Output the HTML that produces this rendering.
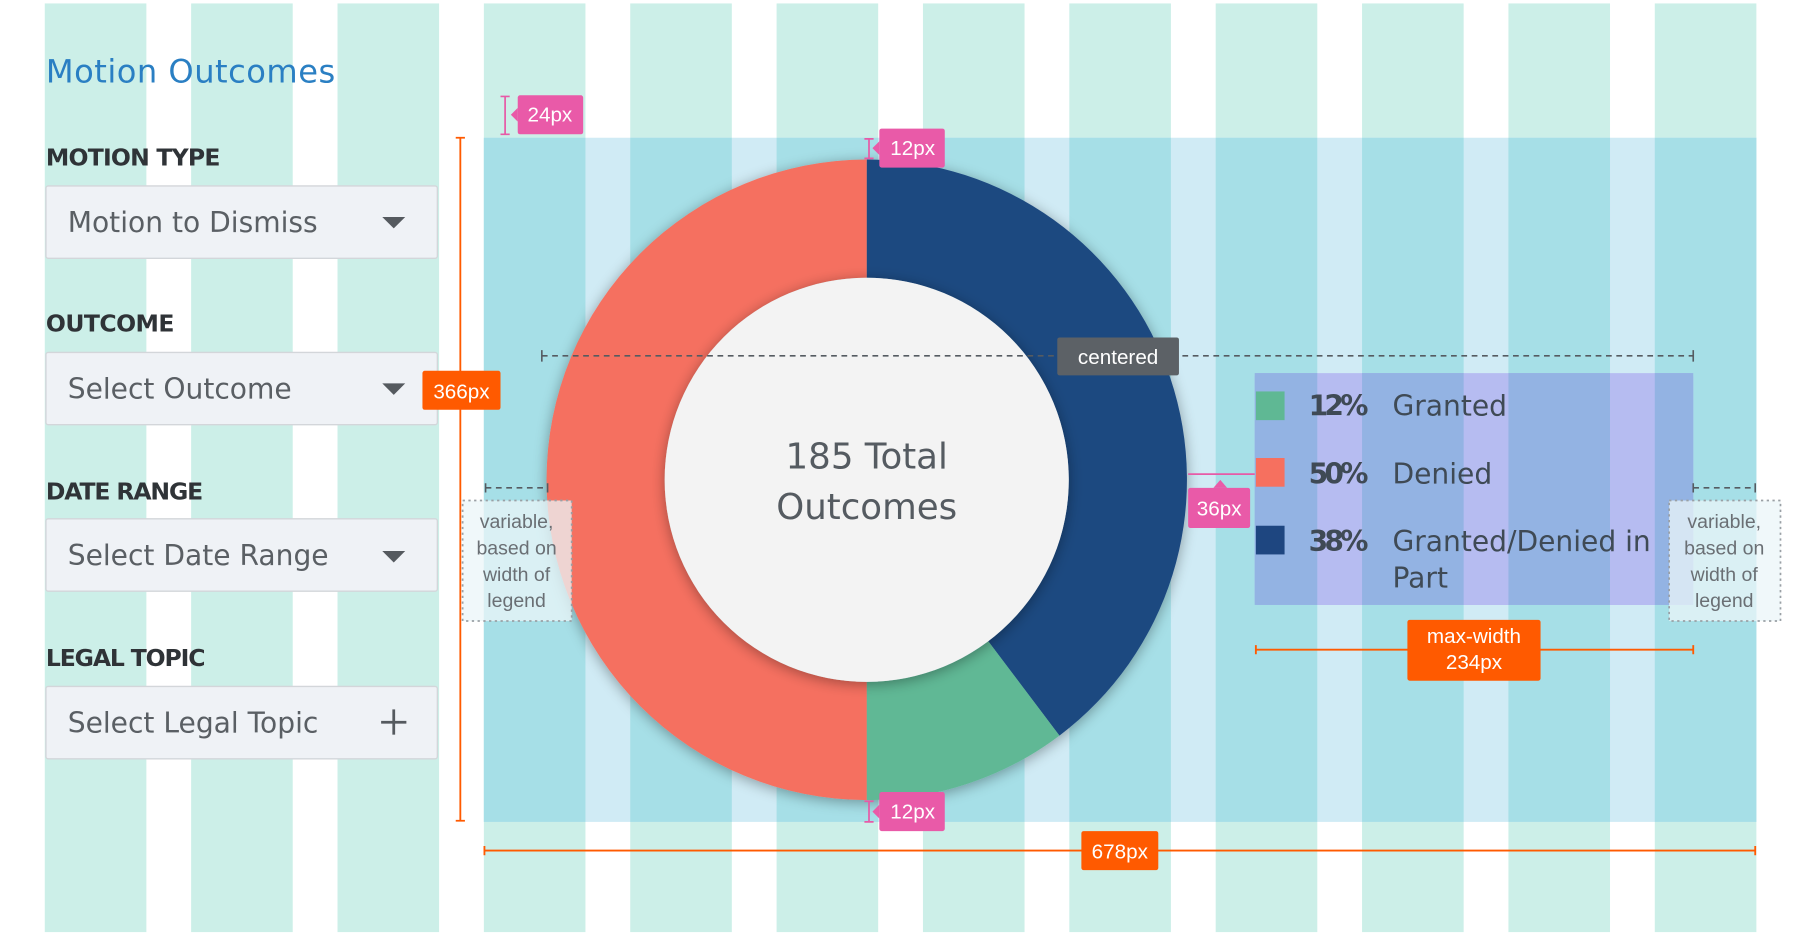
<!DOCTYPE html>
<html><head><meta charset="utf-8"><style>
html,body{margin:0;padding:0;background:#fff;}
svg{display:block;font-family:"Liberation Sans",sans-serif;}
.o{font-family:"DejaVu Sans","Liberation Sans",sans-serif;}
</style></head><body>
<svg width="1800" height="936" viewBox="0 0 1568 815.4" preserveAspectRatio="none" xmlns="http://www.w3.org/2000/svg">
<defs>
<filter id="sh" x="-20%" y="-20%" width="140%" height="140%"><feGaussianBlur in="SourceAlpha" stdDeviation="6"/><feOffset dy="2"/><feComponentTransfer><feFuncA type="linear" slope="0.35"/></feComponentTransfer><feMerge><feMergeNode/><feMergeNode in="SourceGraphic"/></feMerge></filter>
</defs>
<rect width="1568" height="816" fill="#fff"/>
<g fill="#ccefe8">
<rect x="39" y="3" width="88.5" height="809"/><rect x="166.5" y="3" width="88.5" height="809"/><rect x="294" y="3" width="88.5" height="809"/><rect x="421.5" y="3" width="88.5" height="809"/><rect x="549" y="3" width="88.5" height="809"/><rect x="676.5" y="3" width="88.5" height="809"/><rect x="804" y="3" width="88.5" height="809"/><rect x="931.5" y="3" width="88.5" height="809"/><rect x="1059" y="3" width="88.5" height="809"/><rect x="1186.5" y="3" width="88.5" height="809"/><rect x="1314" y="3" width="88.5" height="809"/><rect x="1441.5" y="3" width="88.5" height="809"/>
</g>
<rect x="421.5" y="120" width="1108.5" height="596" fill="#d0ebf5"/>
<g fill="#a6dfe7">
<rect x="421.5" y="120" width="88.5" height="596"/><rect x="549" y="120" width="88.5" height="596"/><rect x="676.5" y="120" width="88.5" height="596"/><rect x="804" y="120" width="88.5" height="596"/><rect x="931.5" y="120" width="88.5" height="596"/><rect x="1059" y="120" width="88.5" height="596"/><rect x="1186.5" y="120" width="88.5" height="596"/><rect x="1314" y="120" width="88.5" height="596"/><rect x="1441.5" y="120" width="88.5" height="596"/>
</g>
<rect x="1093" y="325" width="382" height="202" rx="3" fill="#b6bcf1"/>
<g fill="#93b3e3">
<rect x="1093" y="325" width="54.5" height="202"/><rect x="1186.5" y="325" width="88.5" height="202"/><rect x="1314" y="325" width="88.5" height="202"/><rect x="1441.5" y="325" width="33.5" height="202"/>
</g>
<rect x="1094" y="341" width="25" height="25" fill="#5fb894"/>
<rect x="1094" y="399" width="25" height="25" fill="#f6705f"/>
<rect x="1094" y="458" width="25" height="25" fill="#1e4680"/>
<g class="o" font-size="24.5" fill="#3f4a55">
<text x="1140" y="362" font-weight="bold" textLength="52">12%</text><text x="1213" y="362">Granted</text>
<text x="1140" y="421" font-weight="bold" textLength="52">50%</text><text x="1213" y="421">Denied</text>
<text x="1140" y="480" font-weight="bold" textLength="52">38%</text><text x="1213" y="480">Granted/Denied in</text>
<text x="1213" y="512">Part</text>
</g>
<g filter="url(#sh)">
<path d="M755,139 A279,279 0 0 1 922.9,640.8 L860.9,558.6 A176,176 0 0 0 755,242 Z" fill="#1e4880"/>
<path d="M922.9,640.8 A279,279 0 0 1 755,697 L755,594 A176,176 0 0 0 860.9,558.6 Z" fill="#60b895"/>
<path d="M755,697 A279,279 0 0 1 755,139 L755,242 A176,176 0 0 0 755,594 Z" fill="#f57060"/>
</g>
<circle cx="755" cy="418" r="176" fill="#f3f3f3" filter="url(#sh)"/>
<g class="o" font-size="31" fill="#555b61" text-anchor="middle">
<text x="755" y="408">185 Total</text><text x="755" y="452">Outcomes</text>
</g>
<g class="o">
<text x="40" y="72" font-size="28" fill="#2a7fc3" textLength="252">Motion Outcomes</text>
<g font-size="20.5" font-weight="bold" fill="#2f3337">
<text x="40" y="144" textLength="152">MOTION TYPE</text><text x="40" y="289" textLength="112">OUTCOME</text><text x="40" y="435" textLength="137">DATE RANGE</text><text x="40" y="580" textLength="139">LEGAL TOPIC</text>
</g>
<g fill="#eff2f6" stroke="#d3d6da" stroke-width="1.2">
<rect x="40" y="162" width="341" height="63" rx="2"/><rect x="40" y="307" width="341" height="63" rx="2"/><rect x="40" y="452" width="341" height="63" rx="2"/><rect x="40" y="598" width="341" height="63" rx="2"/>
</g>
<g font-size="24.5" fill="#5a5f64">
<text x="59" y="202">Motion to Dismiss</text><text x="59" y="347">Select Outcome</text><text x="59" y="492">Select Date Range</text><text x="59" y="638">Select Legal Topic</text>
</g>
<g fill="#555a5f">
<path d="M333,189 L353,189 L343,199 Z"/><path d="M333,334 L353,334 L343,344 Z"/><path d="M333,480 L353,480 L343,490 Z"/>
<rect x="332" y="628" width="22" height="2.4"/><rect x="341.8" y="618" width="2.4" height="22"/>
</g>
</g>
<g stroke="#e75aa7" stroke-width="1.5" fill="none">
<path d="M440,84 V117 M436,84 H444 M436,117 H444"/>
<path d="M757,121 V138 M753,121 H761 M753,138 H761"/>
<path d="M757,698 V716 M753,698 H761 M753,716 H761"/>
<path d="M1035,413 H1093"/>
</g>
<g fill="#e95aa8">
<rect x="451" y="83" width="57" height="34" rx="2"/><path d="M451,94 L445,100 L451,106Z"/>
<rect x="766" y="112" width="57" height="34" rx="2"/><path d="M766,123 L760,129 L766,135Z"/>
<rect x="766" y="690" width="57" height="34" rx="2"/><path d="M766,701 L760,707 L766,713Z"/>
<rect x="1035" y="425" width="54" height="35" rx="2"/><path d="M1057,425 L1063,418 L1069,425Z"/>
</g>
<g font-size="18" fill="#fff" text-anchor="middle">
<text x="479" y="106">24px</text><text x="795" y="135">12px</text><text x="795" y="713">12px</text><text x="1062" y="449">36px</text>
</g>
<g stroke="#ff5a00" stroke-width="1.6" fill="none">
<path d="M401,120 V715 M397,120 H405 M397,715 H405"/>
<path d="M422,741 H1529 M422,737 V745 M1529,737 V745"/>
<path d="M1094,566 H1475 M1094,562 V570 M1475,562 V570"/>
</g>
<g fill="#ff5a00">
<rect x="368" y="323" width="68" height="34" rx="2"/>
<rect x="942" y="724" width="67" height="34" rx="2"/>
<rect x="1226" y="540" width="116" height="53" rx="2"/>
</g>
<g font-size="18" fill="#fff" text-anchor="middle">
<text x="402" y="347">366px</text><text x="975.5" y="748">678px</text>
<text x="1284" y="560">max-width</text><text x="1284" y="583">234px</text>
</g>
<g stroke="#555b61" stroke-width="1.4" fill="none" stroke-dasharray="5,4">
<path d="M472,310 H1475"/><path d="M423,425 H477"/><path d="M1475,425 H1529"/>
</g>
<g stroke="#555b61" stroke-width="1.4"><path d="M472,305 V315 M1475,305 V315 M423,421 V429 M477,421 V429 M1475,421 V429 M1529,421 V429"/></g>
<rect x="921" y="294" width="106" height="33" rx="2" fill="#5c6166"/>
<text x="974" y="317" font-size="18" fill="#fff" text-anchor="middle">centered</text>
<g fill="rgba(235,245,248,0.75)" stroke="#9aa0a5" stroke-width="1.5" stroke-dasharray="2,3">
<rect x="403" y="436" width="95" height="105"/><rect x="1454" y="436" width="97" height="105"/>
</g>
<g font-size="17" fill="#6a6f74" text-anchor="middle">
<text x="450" y="460">variable,</text><text x="450" y="483">based on</text><text x="450" y="506">width of</text><text x="450" y="529">legend</text>
<text x="1502" y="460">variable,</text><text x="1502" y="483">based on</text><text x="1502" y="506">width of</text><text x="1502" y="529">legend</text>
</g>
</svg>
</body></html>
